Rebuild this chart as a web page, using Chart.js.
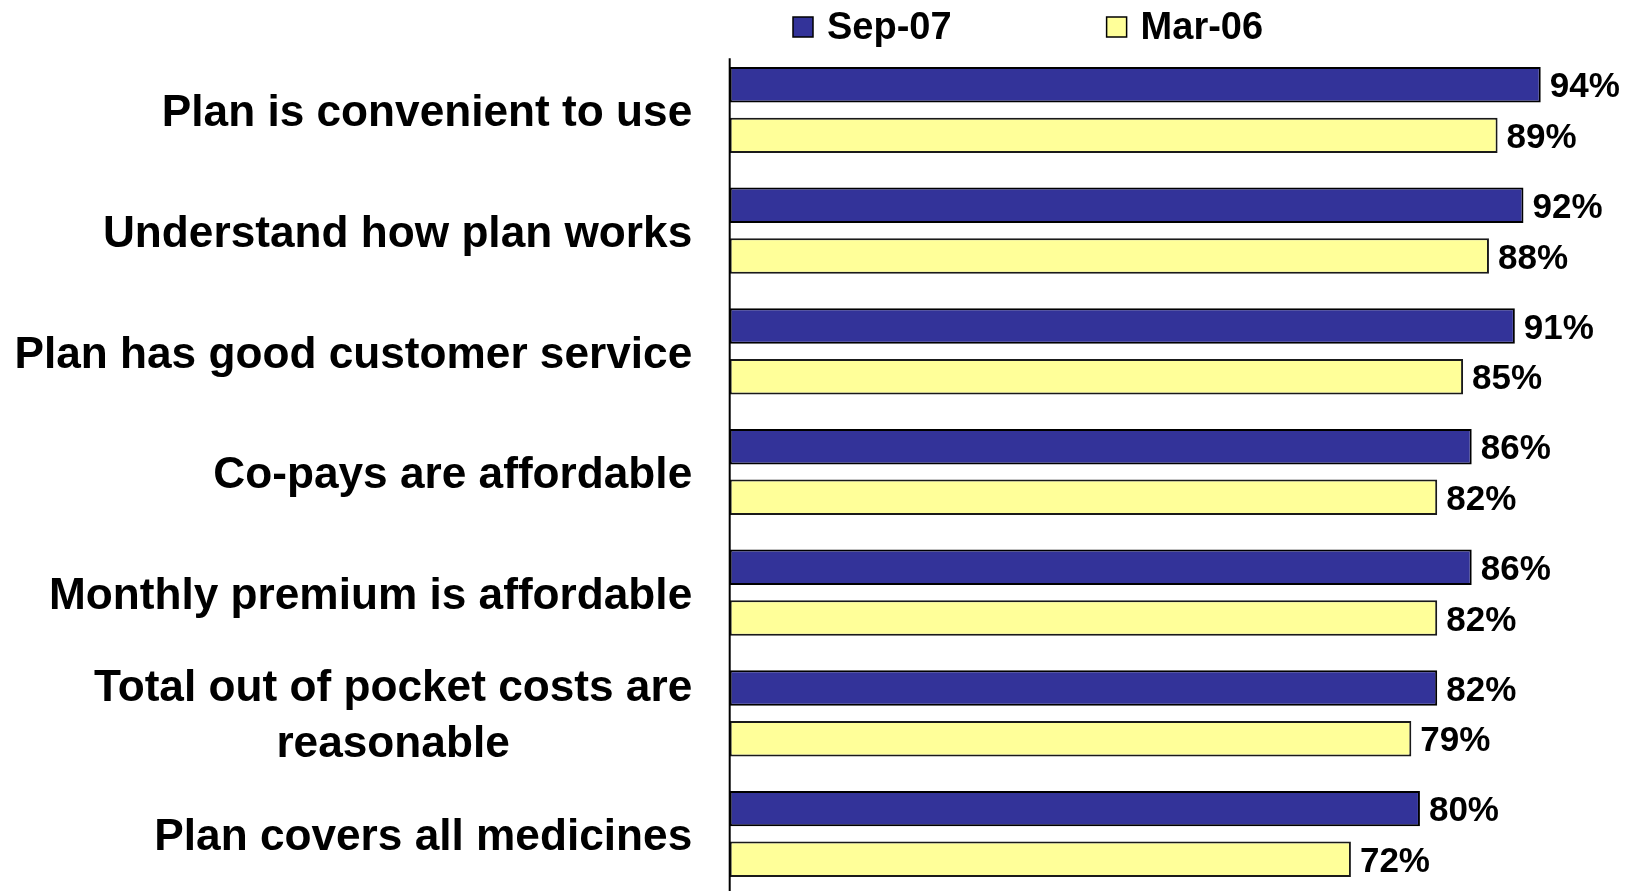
<!DOCTYPE html>
<html>
<head>
<meta charset="utf-8">
<script src="https://cdn.jsdelivr.net/npm/chart.js@4/dist/chart.umd.min.js"></script>
<style>
  html, body { margin: 0; padding: 0; background: #fff; overflow: hidden; }
  canvas { display: block; }
</style>
</head>
<body>
<canvas id="satisfactionChart" width="1631" height="900"></canvas>
<script>
var categories = [
	"Plan is convenient to use",
	"Understand how plan works",
	"Plan has good customer service",
	"Co-pays are affordable",
	"Monthly premium is affordable",
	["Total out of pocket costs are", "reasonable"],
	"Plan covers all medicines"
];
var seriesNames = ["Sep-07", "Mar-06"];
var sep07 = [94, 92, 91, 86, 86, 82, 80];
var mar06 = [89, 88, 85, 82, 82, 79, 72];

var FONT = "'Liberation Sans', Arial, sans-serif";

var ctx = document.getElementById("satisfactionChart");
var chart = new Chart(ctx, {
	type: "bar",
	data: {
		labels: categories,
		datasets: [
			{
				label: seriesNames[0],
				data: sep07,
				backgroundColor: "#333399",
				borderColor: "#000000",
				borderWidth: 2,
				borderSkipped: false,
			},
			{
				label: seriesNames[1],
				data: mar06,
				backgroundColor: "#FFFF99",
				borderColor: "#1a1a1a",
				borderWidth: 2,
				borderSkipped: false,
			},
		],
	},
	options: {
		indexAxis: "y",
		responsive: false,
		animation: false,
		categoryPercentage: 0.84,
		barPercentage: 0.70,
		layout: {
			padding: { left: 0, top: 49.7, right: 38.5, bottom: 5.7 },
		},
		plugins: {
			legend: { display: false },
			tooltip: { enabled: false },
		},
		scales: {
			x: {
				display: false,
				min: 0,
				max: 100,
			},
			y: {
				grid: { display: false },
				border: { display: false },
				ticks: { display: false },
				afterFit: function (scale) {
					scale.width = 729.7;
				},
			},
		},
	},
	plugins: [
		{
			id: "extras",
			afterDraw: function (chart) {
				var c = chart.ctx;
				var area = chart.chartArea;
				var yScale = chart.scales.y;
				c.save();

				// vertical axis line
				c.strokeStyle = "#000";
				c.lineWidth = 2;
				c.beginPath();
				c.moveTo(area.left, area.top + 8.6);
				c.lineTo(area.left, chart.height);
				c.stroke();

				// category labels
				c.fillStyle = "#000";
				c.font = "bold 44.2px " + FONT;
				c.textBaseline = "middle";
				c.textAlign = "center";
				var right = area.left - 37.5;
				chart.data.labels.forEach(function (label, i) {
					var lines = Array.isArray(label) ? label : [label];
					var maxW = 0;
					lines.forEach(function (l) { maxW = Math.max(maxW, c.measureText(l).width); });
					var cy = yScale.getPixelForTick(i) + 4;
					var lh = 56;
					var y0 = cy - (lines.length - 1) * lh / 2;
					lines.forEach(function (l, j) {
						c.fillText(l, right - maxW / 2, y0 + j * lh);
					});
				});

				// value labels
				c.font = "bold 35px " + FONT;
				c.textAlign = "left";
				chart.data.datasets.forEach(function (ds, di) {
					var meta = chart.getDatasetMeta(di);
					meta.data.forEach(function (bar, i) {
						c.fillText(ds.data[i] + "%", bar.x + 9, bar.y + 3);
					});
				});

				// legend
				c.font = "bold 38px " + FONT;
				var x = 793, y = 27;
				chart.data.datasets.forEach(function (ds) {
					c.fillStyle = ds.backgroundColor;
					c.fillRect(x, y - 10, 20, 20);
					c.strokeStyle = "#000";
					c.lineWidth = 1.5;
					c.strokeRect(x, y - 10, 20, 20);
					c.fillStyle = "#000";
					c.fillText(ds.label, x + 34, y + 2);
					x += 34 + c.measureText(ds.label).width + 155;
				});

				c.restore();
			},
		},
	],
});
</script>
</body>
</html>
